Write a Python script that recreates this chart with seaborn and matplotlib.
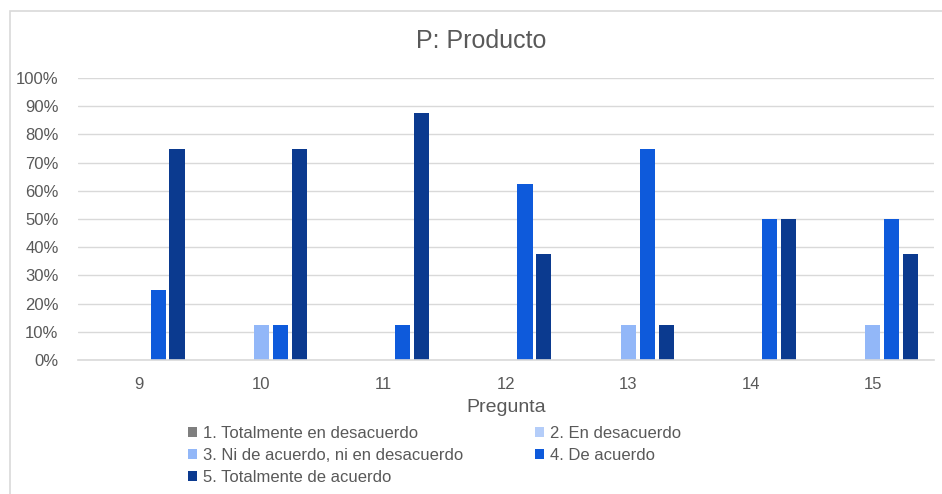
import matplotlib
matplotlib.use("Agg")
import matplotlib.pyplot as plt
import matplotlib.patches as mpatches
from matplotlib.ticker import PercentFormatter
import pandas as pd
import seaborn as sns

# Survey results for the "Producto" block, share of answers per question
preguntas = ["9", "10", "11", "12", "13", "14", "15"]
respuestas = [
    "1. Totalmente en desacuerdo",
    "2. En desacuerdo",
    "3. Ni de acuerdo, ni en desacuerdo",
    "4. De acuerdo",
    "5. Totalmente de acuerdo",
]
totalmente_desacuerdo = [0.0, 0.0, 0.0, 0.0, 0.0, 0.0, 0.0]
en_desacuerdo = [0.0, 0.0, 0.0, 0.0, 0.0, 0.0, 0.0]
ni_acuerdo_ni_desacuerdo = [0.0, 0.125, 0.0, 0.0, 0.125, 0.0, 0.125]
de_acuerdo = [0.25, 0.125, 0.125, 0.625, 0.75, 0.5, 0.5]
totalmente_acuerdo = [0.75, 0.75, 0.875, 0.375, 0.125, 0.5, 0.375]

colores = ["#7F7F7F", "#B4CDF9", "#92B7F8", "#0E5ADB", "#0B3A8F"]

series = [totalmente_desacuerdo, en_desacuerdo, ni_acuerdo_ni_desacuerdo,
          de_acuerdo, totalmente_acuerdo]
rows = []
for nombre, valores in zip(respuestas, series):
    for p, v in zip(preguntas, valores):
        rows.append({"Pregunta": p, "Respuesta": nombre, "Valor": v})
df = pd.DataFrame(rows)

sns.set_theme(style="white")
plt.rcParams["font.family"] = ["Liberation Sans", "DejaVu Sans"]
gris = "#595959"

fig = plt.figure(figsize=(9.42, 4.94), dpi=100)
ax = fig.add_axes([78 / 942, 1 - 360 / 494, (934 - 78) / 942, (360 - 78) / 494])

sns.barplot(data=df, x="Pregunta", y="Valor", hue="Respuesta",
            order=preguntas, hue_order=respuestas, palette=colores,
            saturation=1, width=0.775, gap=0.2, linewidth=0, ax=ax,
            legend=False)

ax.set_ylim(0, 1)
ax.set_xlim(-0.5, len(preguntas) - 0.5)
ax.set_yticks([i / 10 for i in range(11)])
ax.yaxis.set_major_formatter(PercentFormatter(1.0, decimals=0))
ax.grid(axis="y", color="#D9D9D9", linewidth=1.0)
ax.set_axisbelow(True)
for s in ["top", "right", "left"]:
    ax.spines[s].set_visible(False)
ax.spines["bottom"].set_color("#D9D9D9")
ax.spines["bottom"].set_linewidth(1.2)
ax.tick_params(axis="both", length=0, labelsize=12, colors=gris)
ax.tick_params(axis="x", pad=12)
ax.tick_params(axis="y", pad=14)
ax.set_ylabel("")
ax.set_xlabel("Pregunta", fontsize=14, color=gris, labelpad=5)

fig.text(481 / 942, 1 - 48 / 494, "P: Producto", fontsize=18, color=gris,
         ha="center", va="baseline")

# Legend laid out row by row: 1 2 / 3 4 / 5
handles = [mpatches.Patch(facecolor=c, edgecolor="none") for c in colores]
orden = [0, 2, 4, 1, 3]
leg = fig.legend([handles[i] for i in orden], [respuestas[i] for i in orden],
                 ncol=2, loc="upper left",
                 bbox_to_anchor=(188 / 942, 1 - 426 / 494),
                 frameon=False, fontsize=12, borderpad=0, borderaxespad=0,
                 handlelength=0.55, handleheight=0.55, handletextpad=0.35,
                 columnspacing=4.3, labelspacing=0.42)
for t in leg.get_texts():
    t.set_color(gris)

# Outer chart frame
frame = mpatches.Rectangle((10 / 942, -0.1), 1.2, 1.1 - 11 / 494,
                           transform=fig.transFigure, fill=False,
                           edgecolor="#D9D9D9", linewidth=1.2)
fig.patches.append(frame)

fig.savefig("out.png", dpi=100)
